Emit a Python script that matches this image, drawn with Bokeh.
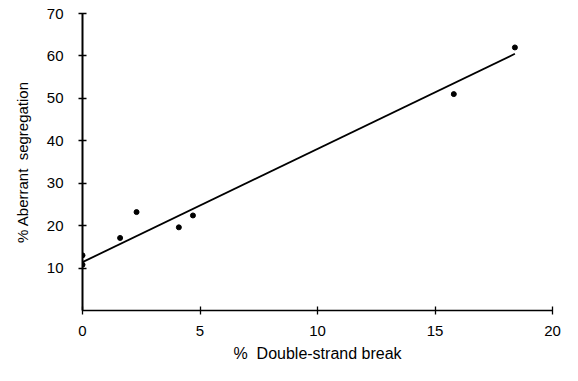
from bokeh.plotting import figure
from bokeh.models import FixedTicker
from bokeh.embed import file_html
from bokeh.resources import INLINE

# Data
dsb = [0.0, 0.0, 1.6, 2.3, 4.1, 4.7, 15.8, 18.4]          # % double-strand break
aberrant = [10.8, 13.0, 17.1, 23.2, 19.6, 22.4, 51.0, 62.0]  # % aberrant segregation
fit_x = [0.0, 18.4]
fit_y = [11.4, 60.5]
x_ticks = [0, 5, 10, 15, 20]
y_ticks = [10, 20, 30, 40, 50, 60, 70]
x_title = "%\u00a0\u00a0Double-strand break"
y_title = "% Aberrant\u00a0\u00a0segregation"

FONT = "Liberation Sans"

p = figure(width=562, height=365, x_range=(0, 20), y_range=(0, 70),
           output_backend="svg", toolbar_location=None,
           min_border_left=82, min_border_right=10,
           min_border_top=13, min_border_bottom=55)
p.grid.visible = False
p.outline_line_color = None
p.background_fill_color = "white"

p.line(fit_x, fit_y, line_color="black", line_width=1.8)
p.scatter(dsb, aberrant, size=5, color="black")

p.xaxis.ticker = FixedTicker(ticks=x_ticks)
p.yaxis.ticker = FixedTicker(ticks=y_ticks)
for ax in (p.xaxis, p.yaxis):
    ax.axis_line_color = "black"
    ax.major_tick_line_color = "black"
    ax.minor_tick_line_color = None
    ax.major_tick_in = 4
    ax.major_tick_out = 4
    ax.major_label_text_font = FONT
    ax.major_label_text_font_size = "15px"
    ax.major_label_text_color = "black"
    ax.axis_label_text_font = FONT
    ax.axis_label_text_font_style = "normal"
    ax.axis_label_text_color = "black"
p.xaxis.axis_line_width = 1.5
p.yaxis.axis_line_width = 2
p.xaxis.major_tick_line_width = 1.3
p.yaxis.major_tick_line_width = 1.3
p.xaxis.major_label_standoff = 11
p.yaxis.major_label_standoff = 15

p.yaxis.axis_label = y_title
p.yaxis.axis_label_text_font_size = "15px"
p.yaxis.axis_label_standoff = 13

p.xaxis.axis_label = x_title
p.xaxis.axis_label_text_font_size = "16px"
p.xaxis.axis_label_standoff = 6

open("out.html", "w").write(file_html(p, INLINE))
